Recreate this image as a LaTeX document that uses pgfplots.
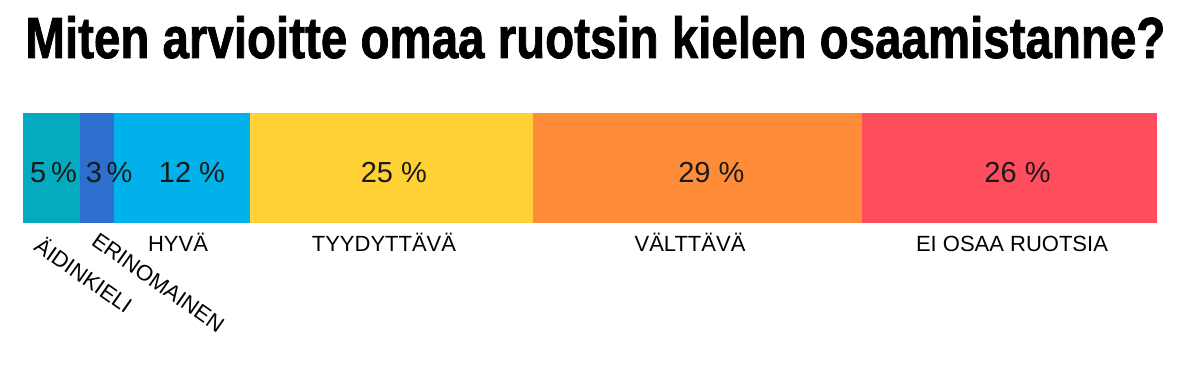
\documentclass[border=0pt]{standalone}
\usepackage{pgfplots}
\pgfplotsset{compat=1.18}
\usepackage{graphicx}
\usepackage{fontspec}
\setmainfont{Liberation Sans}
\newfontfamily\titlefont[FakeBold=1.5]{Liberation Sans Bold}
\definecolor{cA}{HTML}{04AAC0}
\definecolor{cB}{HTML}{2C6FCD}
\definecolor{cC}{HTML}{00B2E9}
\definecolor{cD}{HTML}{FFD135}
\definecolor{cE}{HTML}{FF8C38}
\definecolor{cF}{HTML}{FF4D5E}
\definecolor{txt}{HTML}{1A1A1A}
\tikzset{
  vlab/.style={anchor=base, inner sep=0pt, font=\fontsize{14.5}{16}\selectfont, text=txt},
  clab/.style={inner sep=0pt, font=\fontsize{11}{13}\selectfont, text=black},
}
\begin{document}
\begin{tikzpicture}
\useasboundingbox (0,0) rectangle (599.5pt,190.5pt);
\begin{axis}[
  at={(11.5pt,79pt)}, anchor=south west,
  scale only axis, width=567pt, height=55pt,
  xmin=0, xmax=100, ymin=0, ymax=1,
  hide axis, clip=false,
  xbar stacked, bar width=55pt,
]
\addplot[fill=cA, draw=none] coordinates {(5,0.5)};
\addplot[fill=cB, draw=none] coordinates {(3,0.5)};
\addplot[fill=cC, draw=none] coordinates {(12,0.5)};
\addplot[fill=cD, draw=none] coordinates {(25,0.5)};
\addplot[fill=cE, draw=none] coordinates {(29,0.5)};
\addplot[fill=cF, draw=none] coordinates {(26,0.5)};
\coordinate (v1) at (axis cs:2.7,0.366);
\coordinate (v2) at (axis cs:7.6,0.366);
\coordinate (v3) at (axis cs:14.9,0.366);
\coordinate (v4) at (axis cs:32.7,0.366);
\coordinate (v5) at (axis cs:60.7,0.366);
\coordinate (v6) at (axis cs:87.7,0.366);
\node[clab, anchor=base] at (axis cs:13.67,-0.2636) {HYVÄ};
\node[clab, anchor=base] at (axis cs:31.83,-0.2636) {TYYDYTTÄVÄ};
\node[clab, anchor=base] at (axis cs:58.82,-0.2636) {VÄLTTÄVÄ};
\node[clab, anchor=base] at (axis cs:87.21,-0.2636) {EI OSAA RUOTSIA};
\node[clab, anchor=north west, rotate=-35] at (axis cs:1.8,-0.10) {ÄIDINKIELI};
\node[clab, anchor=north west, rotate=-35] at (axis cs:6.7,-0.075) {ERINOMAINEN};
\end{axis}
\node[vlab] at (v1) {5\,\%};
\node[vlab] at (v2) {3\,\%};
\node[vlab] at (v3) {12 \%};
\node[vlab] at (v4) {25 \%};
\node[vlab] at (v5) {29 \%};
\node[vlab] at (v6) {26 \%};
\node[anchor=base west, inner sep=0pt] at (12.5pt,161.5pt)
  {\resizebox{570pt}{21pt}{\titlefont Miten arvioitte omaa ruotsin kielen osaamistanne?}};
\end{tikzpicture}
\end{document}
